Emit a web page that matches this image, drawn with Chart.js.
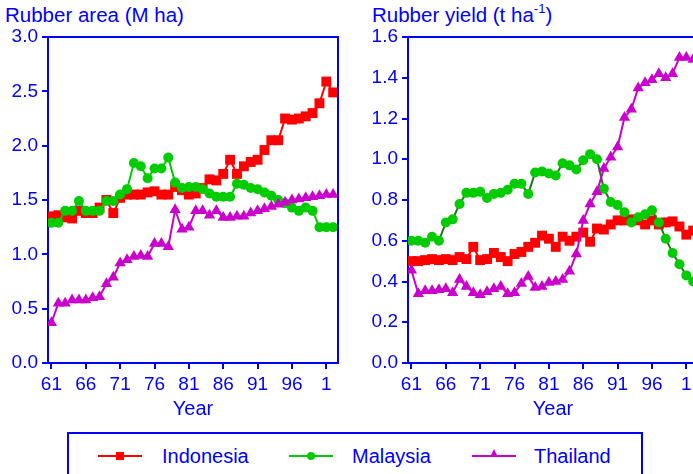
<!DOCTYPE html>
<html>
<head>
<meta charset="utf-8">
<script src="https://cdn.jsdelivr.net/npm/chart.js@4"></script>
<style>
    body { margin: 0; width: 693px; height: 474px; overflow: hidden; background: #fff; position: relative;
           font-family: "Liberation Sans", Arial, sans-serif; color: #0000ff; }
    .title { position: absolute; top: 3px; font-size: 20.5px; white-space: nowrap; }
    canvas { position: absolute; top: 0; }
    #legend { position: absolute; left: 67px; top: 432px; width: 572px; height: 60px; border: 2px solid #0000ff; }
    .item { position: absolute; top: 11px; font-size: 20px; line-height: 22px; }
    .ln { position: absolute; top: 21px; width: 44px; height: 2px; }
    .mk { position: absolute; }
</style>
</head>
<body>
<div class="title" style="left:5px">Rubber area (M ha)</div>
<div class="title" style="left:372px">Rubber yield (t ha<sup style="font-size:13px;vertical-align:9px;line-height:0">-1</sup>)</div>
<canvas id="areaChart" width="345" height="425" style="left:0"></canvas>
<canvas id="yieldChart" width="360" height="425" style="left:345px"></canvas>
<div id="legend">
    <div class="ln" style="left:29px;background:#ff0000"></div>
    <div class="mk" style="left:47px;top:18px;width:8px;height:8px;background:#ff0000"></div>
    <div class="item" style="left:93px">Indonesia</div>
    <div class="ln" style="left:220px;background:#00cc00"></div>
    <div class="mk" style="left:238px;top:18px;width:8px;height:8px;border-radius:4px;background:#00cc00"></div>
    <div class="item" style="left:283px">Malaysia</div>
    <div class="ln" style="left:403px;background:#cc00cc"></div>
    <div class="mk" style="left:421px;top:15px;width:0;height:0;border-left:4px solid transparent;border-right:4px solid transparent;border-bottom:8px solid #cc00cc"></div>
    <div class="item" style="left:465px">Thailand</div>
</div>
<script>
// years 1961-2002 (two-digit labels on the axis)
const years = [61, 62, 63, 64, 65, 66, 67, 68, 69, 70, 71, 72, 73, 74, 75, 76, 77, 78, 79, 80, 81,
               82, 83, 84, 85, 86, 87, 88, 89, 90, 91, 92, 93, 94, 95, 96, 97, 98, 99, 100, 101, 102];
const xTicks = [61, 66, 71, 76, 81, 86, 91, 96, 101];

// Rubber area (M ha)
const areaIndonesia = [1.35, 1.36, 1.34, 1.33, 1.40, 1.38, 1.38, 1.43, 1.50, 1.38, 1.52, 1.55, 1.55, 1.55,
                       1.57, 1.58, 1.55, 1.55, 1.62, 1.59, 1.55, 1.56, 1.61, 1.69, 1.68, 1.74, 1.87, 1.74,
                       1.81, 1.85, 1.87, 1.96, 2.05, 2.05, 2.25, 2.24, 2.25, 2.27, 2.30, 2.39, 2.59, 2.49];
const areaMalaysia = [1.29, 1.29, 1.40, 1.40, 1.49, 1.40, 1.40, 1.40, 1.49, 1.49, 1.55, 1.60, 1.84, 1.81,
                      1.70, 1.79, 1.79, 1.89, 1.66, 1.61, 1.62, 1.62, 1.60, 1.56, 1.53, 1.53, 1.53, 1.65,
                      1.64, 1.61, 1.60, 1.57, 1.54, 1.50, 1.47, 1.43, 1.40, 1.43, 1.40, 1.25, 1.25, 1.25];
const areaThailand = [0.37, 0.55, 0.55, 0.58, 0.58, 0.58, 0.60, 0.61, 0.73, 0.79, 0.92, 0.95, 0.98, 0.99,
                      0.98, 1.10, 1.10, 1.07, 1.41, 1.23, 1.25, 1.40, 1.40, 1.36, 1.40, 1.34, 1.34, 1.35,
                      1.35, 1.38, 1.40, 1.42, 1.44, 1.46, 1.48, 1.50, 1.51, 1.52, 1.53, 1.54, 1.55, 1.55];

// Rubber yield (t/ha)
const yieldIndonesia = [0.50, 0.50, 0.505, 0.51, 0.505, 0.51, 0.505, 0.52, 0.51, 0.57, 0.505, 0.51, 0.54, 0.52,
                        0.50, 0.535, 0.545, 0.57, 0.59, 0.625, 0.61, 0.57, 0.62, 0.60, 0.62, 0.64, 0.595, 0.66,
                        0.655, 0.68, 0.70, 0.70, 0.705, 0.70, 0.68, 0.70, 0.68, 0.69, 0.695, 0.67, 0.63, 0.65];
const yieldMalaysia = [0.60, 0.60, 0.59, 0.62, 0.60, 0.69, 0.705, 0.78, 0.835, 0.835, 0.84, 0.81, 0.83, 0.835,
                       0.85, 0.88, 0.88, 0.83, 0.935, 0.94, 0.93, 0.92, 0.98, 0.97, 0.95, 0.995, 1.025, 1.00,
                       0.855, 0.79, 0.775, 0.74, 0.69, 0.715, 0.73, 0.75, 0.69, 0.61, 0.54, 0.485, 0.43, 0.40];
const yieldThailand = [0.455, 0.34, 0.355, 0.355, 0.36, 0.365, 0.345, 0.41, 0.375, 0.345, 0.335, 0.35, 0.365, 0.375,
                       0.34, 0.345, 0.39, 0.425, 0.37, 0.375, 0.395, 0.40, 0.41, 0.45, 0.535, 0.70, 0.78, 0.84,
                       0.955, 1.01, 1.06, 1.205, 1.245, 1.35, 1.375, 1.39, 1.42, 1.40, 1.42, 1.50, 1.50, 1.49];

const BLUE = '#0000ff';
const FONT = "'Liberation Sans', Arial, sans-serif";

// closes the plot box on top and right
const frame = {
    id: 'frame',
    afterDraw(chart) {
        const a = chart.chartArea, ctx = chart.ctx;
        ctx.save();
        ctx.strokeStyle = BLUE;
        ctx.lineWidth = 2;
        ctx.beginPath();
        ctx.moveTo(a.left, a.top);
        ctx.lineTo(a.right, a.top);
        ctx.lineTo(a.right, a.bottom);
        ctx.stroke();
        ctx.restore();
    }
};

function pts(vals) {
    return vals.map((v, i) => ({ x: years[i], y: v }));
}

function makeChart(id, sets, yMax, yStep, yWidth, padRight, greenLine) {
    const ctx = document.getElementById(id).getContext('2d');
    return new Chart(ctx, {
        type: 'line',
        data: {
            datasets: [
                {
                    label: 'Thailand', data: pts(sets[2]), order: 1,
                    borderColor: '#cc00cc', backgroundColor: '#cc00cc', borderWidth: 2,
                    pointStyle: 'triangle', pointRadius: 6.5, pointBorderWidth: 0
                },
                {
                    label: 'Malaysia', data: pts(sets[1]), order: 2,
                    borderColor: greenLine, backgroundColor: '#00cc00', borderWidth: 2,
                    pointStyle: 'circle', pointRadius: 5, pointBorderWidth: 0
                },
                {
                    label: 'Indonesia', data: pts(sets[0]), order: 3,
                    borderColor: '#ff0000', backgroundColor: '#ff0000', borderWidth: 2,
                    pointStyle: 'rect', pointRadius: 7, pointBorderWidth: 0
                }
            ]
        },
        options: {
            responsive: false,
            animation: false,
            layout: { padding: { top: 37, right: padRight, left: 0, bottom: 0 } },
            plugins: { legend: { display: false }, tooltip: { enabled: false } },
            scales: {
                x: {
                    type: 'linear',
                    min: 60.5,
                    max: 102.7,
                    afterBuildTicks: scale => { scale.ticks = xTicks.map(v => ({ value: v })); },
                    afterFit: scale => { scale.height = 62; },
                    ticks: {
                        color: BLUE, font: { family: FONT, size: 19 }, padding: 4, maxRotation: 0,
                        autoSkip: false,
                        callback: v => (v > 99 ? v - 100 : v)
                    },
                    grid: { drawOnChartArea: false, drawTicks: true, tickLength: 6, color: BLUE, lineWidth: 2 },
                    border: { color: BLUE, width: 2 },
                    title: { display: true, text: 'Year', color: BLUE, font: { family: FONT, size: 20 }, padding: { top: 3 } }
                },
                y: {
                    min: 0,
                    max: yMax,
                    afterFit: scale => { scale.width = yWidth; },
                    ticks: {
                        stepSize: yStep, color: BLUE, font: { family: FONT, size: 19 }, padding: 4,
                        callback: v => v.toFixed(1)
                    },
                    grid: { drawOnChartArea: false, drawTicks: true, tickLength: 6, color: BLUE, lineWidth: 2 },
                    border: { color: BLUE, width: 2 }
                }
            }
        },
        plugins: [frame]
    });
}

makeChart('areaChart', [areaIndonesia, areaMalaysia, areaThailand], 3.0, 0.5, 48, 5, '#00cc00');
makeChart('yieldChart', [yieldIndonesia, yieldMalaysia, yieldThailand], 1.6, 0.2, 63, 5, '#1a7a1a');
</script>
</body>
</html>
